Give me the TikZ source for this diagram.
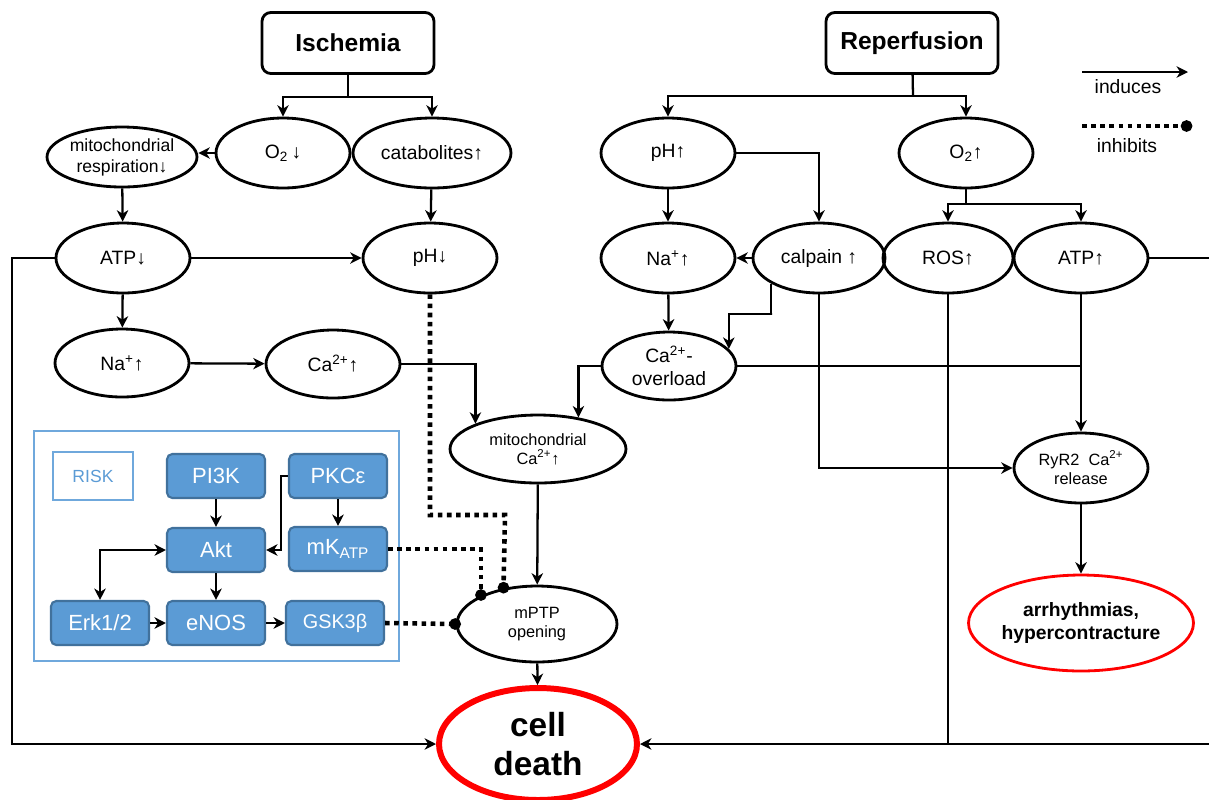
\documentclass[tikz,border=0pt]{standalone}
\usepackage{fontspec}
\setmainfont{Liberation Sans}
\usetikzlibrary{shapes.geometric}
\usetikzlibrary{arrows.meta}

\definecolor{riskblue}{RGB}{91,155,213}
\definecolor{riskedge}{RGB}{65,113,156}
\definecolor{riskframe}{RGB}{111,168,220}

\begin{document}
\begin{tikzpicture}[x=0.02cm, y=-0.02cm,
    ind/.style={-{Stealth[length=6.5pt,width=6.5pt,inset=2pt]}, line width=1.3pt},
    twoway/.style={{Stealth[length=6.5pt,width=6.5pt,inset=2pt]}-{Stealth[length=6.5pt,width=6.5pt,inset=2pt]}, line width=1.3pt},
    link/.style={line width=1.3pt},
    inh/.style={-{Circle[length=6.5pt]}, line width=2.6pt, dash pattern=on 2.6pt off 2.6pt, shorten >=-3pt},
    event/.style={draw, rounded corners=5pt, line width=1.6pt, minimum width=3.44cm, minimum height=1.22cm, font=\fontsize{14}{16}\selectfont\bfseries},
    state/.style={ellipse, draw, line width=1.6pt, minimum width=2.68cm, minimum height=1.4cm, inner sep=0pt, align=center, font=\fontsize{11}{13}\selectfont},
    small/.style={font=\fontsize{9.3}{11}\selectfont},
    kinase/.style={draw=riskedge, fill=riskblue, rounded corners=3pt, line width=1.2pt, minimum width=1.96cm, minimum height=0.88cm, text=white, font=\fontsize{12.5}{14}\selectfont}]
    \useasboundingbox (0,0) rectangle (1209,799);

    % Ischemia
    \node[event] (isch) at (348,43) {Ischemia};
    \node[state, minimum width=3cm, minimum height=1.2cm, font=\fontsize{10}{12}\selectfont] (mresp) at (122,157) {mitochondrial\\respiration↓};
    \node[state] (o2dn) at (283,153) {O\textsubscript{2}\,↓};
    \node[state, minimum width=3.16cm] (catab) at (432,153) {catabolites↑};
    \node[state] (atpdn) at (123,258) {ATP↓};
    \node[state] (phdn) at (430,258) {pH↓};
    \node[state, minimum height=1.36cm] (nain) at (122,363) {Na\textsuperscript{+}↑};
    \node[state, minimum height=1.36cm] (cain) at (333,364) {Ca\textsuperscript{2+}↑};
    \node[state, small, minimum width=3.52cm, minimum height=1.36cm] (mitoca) at (538,449) {mitochondrial\\Ca\textsuperscript{2+}↑};
    \node[state, small, minimum width=3.2cm, minimum height=1.52cm] (mptp) at (537,624) {mPTP\\opening};
    \node[state, draw=red, line width=3.4pt, minimum width=3.96cm, minimum height=2.24cm, font=\fontsize{19}{22}\selectfont\bfseries] (death) at (538,744) {cell\\death};

    % Reperfusion
    \node[event] (reperf) at (912,43) {Reperfusion};
    \node[state] (phup) at (668,153) {pH↑};
    \node[state] (o2up) at (966,153) {O\textsubscript{2}↑};
    \node[state] (naout) at (668,258) {Na\textsuperscript{+}↑};
    \node[state, minimum width=2.64cm] (calp) at (819,258) {calpain ↑};
    \node[state, minimum width=2.6cm] (ros) at (948,258) {ROS↑};
    \node[state] (atpup) at (1081,258) {ATP↑};
    \node[state, minimum height=1.36cm] (caover) at (669,366) {Ca\textsuperscript{2+}-\\overload};
    \node[state, small] (ryr) at (1081,468) {RyR2~ Ca\textsuperscript{2+}\\release};
    \node[state, draw=red, line width=1.6pt, minimum width=4.5cm, minimum height=1.92cm, font=\fontsize{11}{13}\selectfont\bfseries] (arrh) at (1081,623) {arrhythmias,\\hypercontracture};

    % RISK
    \draw[riskframe, line width=1.5pt] (34,431) rectangle (399,661);
    \node[draw=riskframe, line width=1.5pt, minimum width=1.6cm, minimum height=0.96cm, text=riskblue, font=\fontsize{10}{12}\selectfont] (risk) at (93,476) {RISK};
    \node[kinase] (pi3k) at (216,476) {PI3K};
    \node[kinase] (pkc) at (338,476) {PKCε};
    \node[kinase] (akt) at (216,550) {Akt};
    \node[kinase] (mkatp) at (338,549) {mK\textsubscript{ATP}};
    \node[kinase] (erk) at (100,623) {Erk1/2};
    \node[kinase] (enos) at (216,623) {eNOS};
    \node[kinase, font=\fontsize{11.3}{13}\selectfont] (gsk) at (335,623) {GSK3β};

    % legend
    \coordinate (lgA) at (1082,72);
    \coordinate (lgB) at (1188,72);
    \coordinate (lgC) at (1082,126);
    \coordinate (lgD) at (1187,126);
    \draw[ind] (lgA) -- (lgB);
    \draw[inh] (lgC) -- (lgD);
    \node[font=\fontsize{11}{13}\selectfont] (lgind) at (1128,87) {induces};
    \node[font=\fontsize{11}{13}\selectfont] (lginh) at (1127,146) {inhibits};

    % ischemia arrows
    \coordinate (isplit) at (348,97);
    \draw[link] (isch) -- (isplit);
    \draw[ind] (isplit) -| (o2dn);
    \draw[ind] (isplit) -| (catab);
    \draw[ind] (o2dn.west) -- (mresp.east |- o2dn.west);
    \draw[ind] (mresp) -- (atpdn);
    \draw[ind] (catab) -- (phdn);
    \draw[ind] (atpdn) -- (phdn);
    \draw[ind] (atpdn) -- (nain);
    \coordinate (leftrail) at (12,258);
    \draw[ind] (atpdn.west) -- (leftrail) |- (death.west);
    \draw[ind] (nain) -- (cain);
    \draw[ind] (cain.east) -| (mitoca.158);
    \draw[ind] (mitoca) -- (mptp);
    \draw[ind] (mptp) -- (death);

    % inhibition of mPTP
    \coordinate (phbend) at (505,515);
    \draw[inh] (phdn.south) |- (phbend) -- (mptp.133);
    \draw[inh] (mkatp.east) -| (mptp.153);
    \draw[inh] (gsk.east) -- (mptp.west);

    % reperfusion arrows
    \coordinate (rsplit) at (913,96);
    \draw[link] (reperf) -- (rsplit);
    \draw[ind] (rsplit) -| (phup);
    \draw[ind] (rsplit) -| (o2up);
    \draw[ind] (phup) -- (naout);
    \draw[ind] (phup.east) -| (calp);
    \draw[ind] (calp) -- (naout);
    \coordinate (o2split) at (966,204);
    \draw[link] (o2up) -- (o2split);
    \draw[ind] (o2split) -| (ros);
    \draw[ind] (o2split) -| (atpup);
    \draw[ind] (naout) -- (caover);
    \coordinate (calbend) at (772,314);
    \draw[ind] (calp.208) |- (calbend) -| (caover.16);
    \draw[ind] (calp.south) |- (ryr.west);
    \draw[ind] (caover.west) -| (mitoca.38);
    \draw[link] (caover.east) -- (caover.east -| atpup.south);
    \draw[ind] (atpup) -- (ryr);
    \draw[ind] (ryr) -- (arrh);
    \coordinate (rightrail) at (1214,258);
    \draw[ind] (atpup.east) -- (rightrail) |- (death.east);
    \draw[link] (ros.south) -- (ros.south |- death.east);

    % RISK arrows
    \draw[ind] (pi3k) -- (akt);
    \draw[ind] (pkc) -- (mkatp);
    \draw[ind] (pkc.west) -- ++(-7,0) |- (akt.east);
    \draw[twoway] (akt.west) -| (erk);
    \draw[ind] (akt) -- (enos);
    \draw[ind] (erk) -- (enos);
    \draw[ind] (enos) -- (gsk);
\end{tikzpicture}
\end{document}
